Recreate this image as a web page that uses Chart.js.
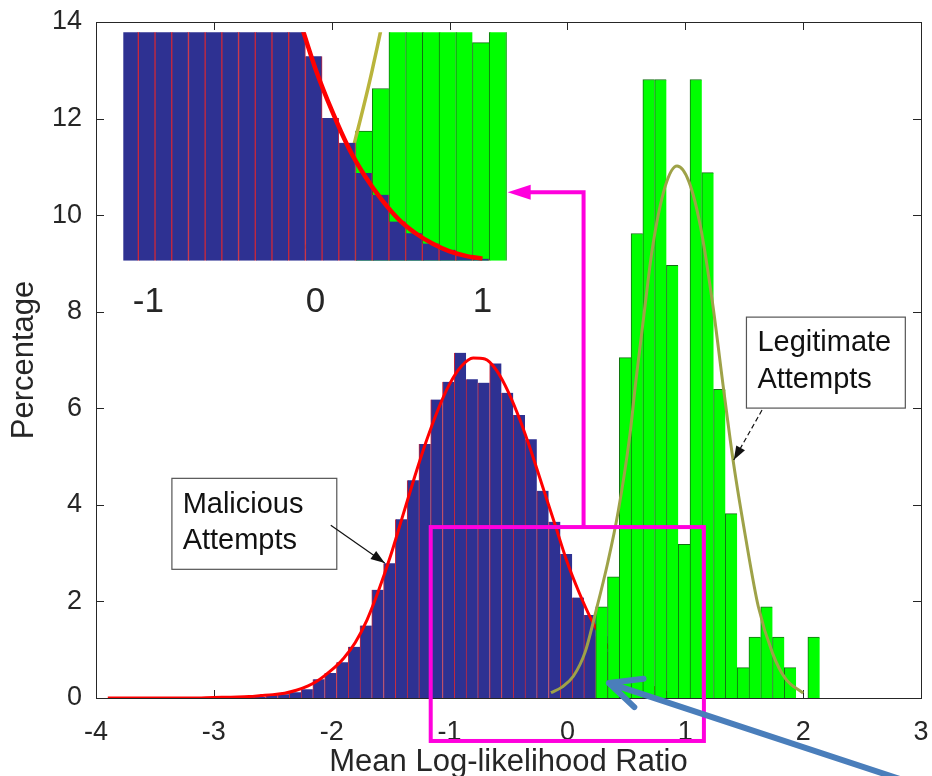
<!DOCTYPE html>
<html>
<head>
<meta charset="utf-8">
<script src="https://cdn.jsdelivr.net/npm/chart.js@4.4.0/dist/chart.umd.min.js"></script>
<style>
  html, body { margin: 0; padding: 0; background: #fff; }
  #wrap { position: relative; width: 932px; height: 776px; }
  #main { position: absolute; left: 0; top: 0; }
  #inset { position: absolute; left: 100px; top: 28px; }
</style>
</head>
<body>
<div id="wrap">
  <canvas id="main" width="932" height="776"></canvas>
  <canvas id="inset" width="420" height="300"></canvas>
</div>
<script>
// histogram bins (centres) and percentages
const maliciousBins = [-2.71, -2.61, -2.51, -2.41, -2.31, -2.21, -2.11, -2.01, -1.91, -1.81,
  -1.71, -1.61, -1.51, -1.41, -1.31, -1.21, -1.11, -1.01, -0.91, -0.81,
  -0.71, -0.61, -0.51, -0.41, -0.31, -0.21, -0.11, -0.01, 0.09, 0.19,
  0.29, 0.39, 0.49, 0.59, 0.69, 0.79, 0.89, 0.99];
const maliciousPct = [0.04, 0.02, 0.08, 0.08, 0.12, 0.18, 0.39, 0.52, 0.74, 1.06,
  1.50, 2.24, 2.79, 3.70, 4.51, 5.26, 6.18, 6.55, 7.15, 6.60,
  6.53, 6.93, 6.32, 5.86, 5.36, 4.29, 3.65, 2.98, 2.08, 1.72,
  1.28, 0.96, 0.57, 0.40, 0.25, 0.16, 0.08, 0.03];

const legitBins = [0.29, 0.39, 0.49, 0.59, 0.69, 0.79, 0.89, 0.99, 1.09, 1.19,
  1.29, 1.39, 1.49, 1.59, 1.69, 1.79, 1.89, 1.99, 2.09];
const legitPct = [1.89, 2.51, 7.05, 9.62, 12.81, 12.81, 8.96, 3.18, 12.81, 10.88,
  6.39, 3.82, 0.63, 1.26, 1.89, 1.26, 0.63, 0, 1.26];

// fitted curves, points
const maliciousFitX = [-3.9, -3.5, -3.2, -3.0, -2.8, -2.7, -2.6, -2.5, -2.4, -2.3, -2.2, -2.1,
  -2.0, -1.9, -1.8, -1.7, -1.6, -1.5, -1.4, -1.3, -1.2, -1.1, -1.0, -0.9, -0.8,
  -0.7, -0.6, -0.5, -0.4, -0.3, -0.2, -0.1, 0.0, 0.1, 0.2, 0.3, 0.4, 0.5, 0.6,
  0.7, 0.8, 0.9, 1.0];
const maliciousFitY = [0, 0, 0, 0.01, 0.02, 0.03, 0.05, 0.07, 0.10, 0.16, 0.25, 0.39,
  0.58, 0.82, 1.15, 1.62, 2.24, 2.95, 3.75, 4.55, 5.30, 5.96, 6.50, 6.87, 7.04,
  7.02, 6.78, 6.33, 5.74, 5.05, 4.30, 3.55, 2.80, 2.18, 1.64, 1.22, 0.88, 0.60, 0.40,
  0.25, 0.14, 0.07, 0.03];

const legitFitX = [-0.14, -0.05, 0.05, 0.15, 0.24, 0.34, 0.43, 0.53, 0.58, 0.65, 0.72,
  0.83, 0.93, 1.03, 1.13, 1.23, 1.33, 1.41, 1.51, 1.62, 1.74, 1.85, 2.0];
const legitFitY = [0.11, 0.22, 0.45, 0.95, 1.78, 2.78, 3.85, 5.45, 6.55, 7.95, 9.3,
  10.6, 11.02, 10.7, 9.75, 8.2, 6.3, 4.85, 3.35, 1.89, 0.93, 0.40, 0.10];

const xTicks = [-4, -3, -2, -1, 0, 1, 2, 3];
const yTicks = [0, 2, 4, 6, 8, 10, 12, 14];
const insetTicks = [-1, 0, 1];

const FONT = "'Liberation Sans', Arial, Helvetica, sans-serif";
const INK = '#262626';

const toPoints = (xs, ys) => xs.map((x, i) => ({ x, y: ys[i] }));

function arrowHead(ctx, x0, y0, x1, y1, len, half) {
  const a = Math.atan2(y1 - y0, x1 - x0);
  ctx.beginPath();
  ctx.moveTo(x1, y1);
  ctx.lineTo(x1 - len * Math.cos(a) + half * Math.sin(a), y1 - len * Math.sin(a) - half * Math.cos(a));
  ctx.lineTo(x1 - len * Math.cos(a) - half * Math.sin(a), y1 - len * Math.sin(a) + half * Math.cos(a));
  ctx.closePath();
  ctx.fill();
}

// keep the plot box where it is, labels may hang outside it
function noScalePadding(s) {
  s.paddingTop = 0; s.paddingBottom = 0; s.paddingLeft = 0; s.paddingRight = 0;
}

const axisFrame = {
  id: 'axisFrame',
  beforeDatasetsDraw(chart) {
    const { ctx, chartArea: a, scales: { x, y } } = chart;
    ctx.save();
    ctx.strokeStyle = INK;
    ctx.lineWidth = 1;
    ctx.beginPath();
    xTicks.forEach(v => {
      const p = Math.round(x.getPixelForValue(v)) + 0.5;
      ctx.moveTo(p, a.bottom); ctx.lineTo(p, a.bottom - 8);
      ctx.moveTo(p, a.top); ctx.lineTo(p, a.top + 8);
    });
    yTicks.forEach(v => {
      const p = Math.round(y.getPixelForValue(v)) + 0.5;
      ctx.moveTo(a.left, p); ctx.lineTo(a.left + 8, p);
      ctx.moveTo(a.right, p); ctx.lineTo(a.right - 8, p);
    });
    ctx.stroke();
    ctx.restore();
  },
  afterDatasetsDraw(chart) {
    const { ctx, chartArea: a } = chart;
    ctx.save();
    ctx.strokeStyle = INK;
    ctx.lineWidth = 1;
    ctx.strokeRect(Math.round(a.left) + 0.5, Math.round(a.top) + 0.5,
      Math.round(a.right - a.left), Math.round(a.bottom - a.top));
    ctx.restore();
  }
};

const notes = {
  id: 'notes',
  afterDraw(chart) {
    const { ctx, scales: { x, y } } = chart;
    const px = v => x.getPixelForValue(v);
    const py = v => y.getPixelForValue(v);
    ctx.save();

    // text boxes
    function textBox(x0, y0, x1, y1, tx, lines) {
      ctx.fillStyle = '#fff';
      ctx.fillRect(px(x0), py(y0), px(x1) - px(x0), py(y1) - py(y0));
      ctx.strokeStyle = '#555';
      ctx.lineWidth = 1.2;
      ctx.strokeRect(px(x0), py(y0), px(x1) - px(x0), py(y1) - py(y0));
      ctx.fillStyle = '#111';
      ctx.font = '29px ' + FONT;
      ctx.textAlign = 'left';
      ctx.textBaseline = 'middle';
      lines.forEach(l => ctx.fillText(l[0], px(tx), py(l[1])));
    }
    textBox(-3.356, 4.549, -1.957, 2.665, -3.265, [['Malicious', 4.004], ['Attempts', 3.244]]);
    textBox(1.519, 7.888, 2.867, 6.004, 1.612, [['Legitimate', 7.345], ['Attempts', 6.584]]);

    // black pointers
    ctx.strokeStyle = '#111';
    ctx.fillStyle = '#111';
    ctx.lineWidth = 1.2;
    ctx.beginPath();
    ctx.moveTo(px(-2.008), py(3.58));
    ctx.lineTo(px(-1.55), py(2.795));
    ctx.stroke();
    arrowHead(ctx, px(-2.008), py(3.58), px(-1.55), py(2.795), 14, 5);
    ctx.setLineDash([5, 3]);
    ctx.beginPath();
    ctx.moveTo(px(1.651), py(5.963));
    ctx.lineTo(px(1.411), py(4.928));
    ctx.stroke();
    ctx.setLineDash([]);
    arrowHead(ctx, px(1.651), py(5.963), px(1.411), py(4.928), 14, 5);

    // magenta zoom box and connector
    const mag = '#ff00dd';
    ctx.strokeStyle = mag;
    ctx.fillStyle = mag;
    ctx.lineWidth = 4;
    ctx.strokeRect(px(-1.16), py(3.54), px(1.158) - px(-1.16), py(-0.89) - py(3.54));
    ctx.beginPath();
    ctx.moveTo(px(0.137), py(3.54));
    ctx.lineTo(px(0.137), py(10.476));
    ctx.lineTo(px(-0.33), py(10.476));
    ctx.stroke();
    arrowHead(ctx, px(0.137), py(10.476), px(-0.507), py(10.476), 23, 7.5);

    // blue pointer arrow, its tail runs off the bottom of the picture
    const bx0 = px(3.22), by0 = py(-2.0), bx1 = px(0.352), by1 = py(0.31);
    const ang = Math.atan2(by0 - by1, bx0 - bx1);
    ctx.strokeStyle = '#4a7ebb';
    ctx.lineWidth = 6;
    ctx.lineCap = 'round';
    ctx.lineJoin = 'round';
    ctx.beginPath();
    ctx.moveTo(bx0, by0);
    ctx.lineTo(bx1, by1);
    ctx.moveTo(bx1 + 35 * Math.cos(ang - 0.44), by1 + 35 * Math.sin(ang - 0.44));
    ctx.lineTo(bx1, by1);
    ctx.lineTo(bx1 + 35 * Math.cos(ang + 0.44), by1 + 35 * Math.sin(ang + 0.44));
    ctx.stroke();
    ctx.restore();
  }
};

new Chart(document.getElementById('main'), {
  type: 'bar',
  data: {
    datasets: [
      {
        type: 'line', label: 'Legitimate fit', data: toPoints(legitFitX, legitFitY),
        borderColor: '#9ea248', borderWidth: 3, pointRadius: 0,
        cubicInterpolationMode: 'monotone', order: 0
      },
      {
        label: 'Legitimate Attempts', data: toPoints(legitBins, legitPct),
        backgroundColor: '#00ff00', borderColor: '#127012',
        borderWidth: { left: 1, right: 0, top: 1, bottom: 0 }, order: 1
      },
      {
        type: 'line', label: 'Malicious fit', data: toPoints(maliciousFitX, maliciousFitY),
        borderColor: '#ff0000', borderWidth: 3, pointRadius: 0,
        cubicInterpolationMode: 'monotone', order: 2
      },
      {
        label: 'Malicious Attempts', data: toPoints(maliciousBins, maliciousPct),
        backgroundColor: '#2e3192', borderColor: '#c8283c',
        borderWidth: { left: 1, right: 0, top: 0, bottom: 0 }, order: 3
      }
    ]
  },
  options: {
    responsive: false,
    animation: false,
    devicePixelRatio: 1,
    layout: { padding: { top: 22, right: 11, left: 0, bottom: 0 } },
    datasets: { bar: { grouped: false, barPercentage: 1, categoryPercentage: 1 } },
    scales: {
      x: {
        type: 'linear', min: -4, max: 3, offset: false,
        grid: { display: false, drawTicks: false },
        border: { display: false },
        ticks: { stepSize: 1, includeBounds: false, padding: 18, color: INK, font: { family: FONT, size: 27 } },
        title: { display: true, text: 'Mean Log-likelihood Ratio', color: INK,
          font: { family: FONT, size: 31, lineHeight: 0.9 }, padding: { top: 0, bottom: 0 } },
        afterFit(s) { s.height = 78; noScalePadding(s); }
      },
      y: {
        min: 0, max: 14,
        grid: { display: false, drawTicks: false },
        border: { display: false },
        ticks: { stepSize: 2, padding: 14, color: INK, font: { family: FONT, size: 27 } },
        title: { display: true, text: 'Percentage', color: INK,
          font: { family: FONT, size: 31, lineHeight: 1 }, padding: { top: 8.5, bottom: 0 } },
        afterFit(s) { s.width = 96; noScalePadding(s); }
      }
    },
    plugins: { legend: { display: false }, tooltip: { enabled: false } }
  },
  plugins: [axisFrame, notes]
});

// magnified view of the overlap region
new Chart(document.getElementById('inset'), {
  type: 'bar',
  data: {
    datasets: [
      {
        type: 'line', label: 'Malicious fit', data: toPoints(maliciousFitX, maliciousFitY),
        borderColor: '#ff0000', borderWidth: 4.5, pointRadius: 0,
        cubicInterpolationMode: 'monotone', order: 0
      },
      {
        label: 'Malicious Attempts', data: toPoints(maliciousBins, maliciousPct),
        backgroundColor: '#2e3192', borderColor: '#c8283c',
        borderWidth: { left: 1, right: 1, top: 0, bottom: 0 }, order: 1
      },
      {
        type: 'line', label: 'Legitimate fit', data: toPoints(legitFitX, legitFitY),
        borderColor: '#b9b43c', borderWidth: 3.5, pointRadius: 0,
        cubicInterpolationMode: 'monotone', order: 2
      },
      {
        label: 'Legitimate Attempts', data: toPoints(legitBins, legitPct),
        backgroundColor: '#00ff00', borderColor: '#127012',
        borderWidth: { left: 1, right: 0, top: 1, bottom: 0 }, order: 3
      }
    ]
  },
  options: {
    responsive: false,
    animation: false,
    devicePixelRatio: 1,
    layout: { padding: { top: 4.3, right: 13.3, left: 23.3, bottom: 0 } },
    datasets: { bar: { grouped: false, barPercentage: 1, categoryPercentage: 1 } },
    scales: {
      x: {
        type: 'linear', min: -1.15, max: 1.145, offset: false,
        grid: { display: false, drawTicks: false },
        border: { display: false },
        ticks: {
          stepSize: 1, includeBounds: false, padding: 21, color: INK,
          font: { family: FONT, size: 35 },
          callback: v => insetTicks.includes(v) ? String(v) : ''
        },
        afterFit(s) { s.height = 67.3; noScalePadding(s); }
      },
      y: { display: false, min: 0, max: 3.33 }
    },
    plugins: { legend: { display: false }, tooltip: { enabled: false } }
  }
});
</script>
</body>
</html>
